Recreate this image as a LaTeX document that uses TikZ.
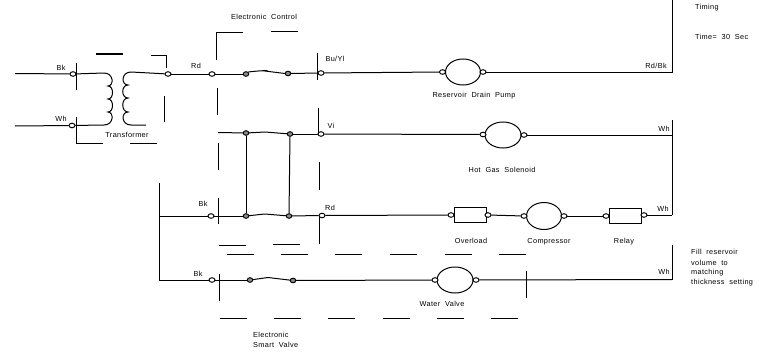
\documentclass[tikz,border=0pt]{standalone}
\usepackage{fontspec}
\setmainfont[LetterSpace=5,WordSpace=2]{Liberation Sans}
\usetikzlibrary{shapes.geometric}
\tikzset{
  wire/.style={line width=1pt,black},
  thin wire/.style={line width=1pt,black},
  dashpart/.style={line width=1pt,black},
  term/.style={ellipse,draw=black,line width=0.95pt,fill=white,minimum width=6pt,minimum height=4.6pt,inner sep=0pt},
  contact/.style={ellipse,draw=black,line width=0.95pt,fill=black!45,minimum width=5.5pt,minimum height=4.6pt,inner sep=0pt},
  load/.style={ellipse,draw=black,line width=1pt,fill=white,inner sep=0pt,minimum width=35pt,minimum height=26pt},
  boxload/.style={rectangle,draw=black,line width=1pt,fill=white,inner sep=0pt,minimum width=32pt,minimum height=15pt},
  lab/.style={inner sep=0pt,font=\fontsize{7.3pt}{8pt}\selectfont,text=black},
  leftlab/.style={lab,anchor=west,align=left}
}
\begin{document}
\begin{tikzpicture}[x=1pt,y=-1pt]
\useasboundingbox (0,0) rectangle (759,353);
% free ends
\coordinate (inT) at (15,73.5);
\coordinate (inB) at (15,126);
\coordinate (rightTop) at (672,0);
\coordinate (priT) at (104,73);
\coordinate (priB) at (104,125);
\coordinate (secT) at (131,72);
\coordinate (secB) at (146,125);
\coordinate (ecL) at (218,132.5);
\coordinate (r1R) at (672,72);
\coordinate (r2R) at (672,135);
\coordinate (r3R) at (672,215);
\coordinate (r4R) at (672,279.5);
\coordinate (r3L) at (159,216);
\coordinate (r4L) at (159,280);
\coordinate (busT) at (159,183);
% wires first, nodes on top
\node[term] (bkA) at (73,74) {};
\node[term] (whA) at (72,125.5) {};
\node[term] (t1) at (168,74) {};
\node[term] (rdA) at (212,74) {};
\node[contact] (c1a) at (246,74) {};
\node[contact] (c1b) at (288,73.5) {};
\node[term] (buyl) at (321,73) {};
\node[contact] (c2a) at (246,133) {};
\node[contact] (c2b) at (290,134) {};
\node[term] (vi) at (321,134) {};
\node[term] (bkB) at (211,216) {};
\node[contact] (c3a) at (246,216) {};
\node[contact] (c3b) at (289,216) {};
\node[term] (rdB) at (322,215.5) {};
\node[term] (bkC) at (212,280) {};
\node[contact] (c4a) at (250,280) {};
\node[contact] (c4b) at (293,280.5) {};
\draw[wire] (inT) -- (bkA);
\draw[wire] (inB) -- (whA);
\draw[wire] (bkA) -- (priT);
\draw[wire] (whA) -- (priB);
\draw[wire] (priT) .. controls (114,73) and (114,86) .. (108,86)
  .. controls (114,86) and (114,99) .. (108,99)
  .. controls (114,99) and (114,112) .. (108,112)
  .. controls (114,112) and (114,125) .. (priB);
\draw[wire] (secT) .. controls (121,72) and (121,85) .. (128,85)
  .. controls (121,85) and (121,98) .. (128,98)
  .. controls (121,98) and (121,112) .. (128,112)
  .. controls (121,112) and (121,125) .. (131,125) -- (secB);
\draw[wire] (secT) -- (t1);
\draw[wire] (t1) -- (rdA);
\draw[wire] (rdA) -- (c1a);
\draw[wire] (c1a.north east) .. controls +(6,-1) and +(8,-1) .. (265,71) -- (c1b.west);
\draw[wire] (c1b) -- (buyl);
\node[load] (pump) at (463,72) {};
\node[term] (pumpL) at (442.5,72) {};
\node[term] (pumpR) at (483,72) {};
\draw[wire] (buyl) -- (pumpL);
\draw[wire] (pumpR) -- (r1R) -- (rightTop);
\draw[wire] (ecL) -- (c2a);
\draw[wire] (c2a) -- (265,132) -- (c2b);
\draw[wire] (c2b) -- (vi);
\node[load,minimum width=36pt] (sol) at (503,135) {};
\node[term] (solL) at (483,134.5) {};
\node[term] (solR) at (524,135) {};
\draw[wire] (vi) -- (solL);
\draw[wire] (solR) -- (r2R);
\draw[wire] (r3L) -- (bkB);
\draw[wire] (bkB) -- (c3a);
\draw[wire] (c3a) -- (265,214) -- (c3b);
\draw[wire] (c3b) -- (rdB);
\draw[wire] (c2a) -- (c3a);
\draw[wire] (c2b) -- (c3b);
\node[boxload] (over) at (470,215) {};
\node[term] (overL) at (451,215) {};
\node[term] (overR) at (488,215) {};
\node[load,minimum width=35pt,minimum height=27pt] (comp) at (544,216) {};
\node[term] (compL) at (524,216) {};
\node[term] (compR) at (564,216) {};
\node[boxload] (relay) at (625,215.5) {};
\node[term] (relayL) at (606,216) {};
\node[term] (relayR) at (644,215) {};
\draw[wire] (rdB) -- (overL);
\draw[wire] (overR) -- (compL);
\draw[wire] (compR) -- (relayL);
\draw[wire] (relayR) -- (r3R);
\draw[wire] (busT) -- (r4L) -- (bkC);
\draw[wire] (bkC) -- (c4a);
\draw[wire] (c4a) -- (268,277.5) -- (c4b);
\node[load,minimum width=36pt] (valve) at (455,280) {};
\node[term] (valveL) at (435,280) {};
\node[term] (valveR) at (476,280) {};
\draw[wire] (c4b) -- (valveL);
\draw[wire] (valveR) -- (r4R);
\draw[wire] (672,120) -- (r2R) -- (r3R);
\draw[wire] (672,245) -- (r4R);
% ticks and dashed enclosures
\draw[thin wire] (76,63) -- (76,90);
\draw[thin wire] (76,117) -- (76,143) -- (103,143);
\draw[dashpart] (130,143) -- (157,143);
\draw[dashpart] (96,54) -- (123,54);
\draw[dashpart] (151,55) -- (166,55) -- (166,68);
\draw[dashpart] (164,96) -- (164,122);
\draw[dashpart] (216,60) -- (216,33) -- (243,33);
\draw[dashpart] (271,32) -- (298,32);
\draw[dashpart] (217,88) -- (217,115);
\draw[dashpart] (218,143) -- (218,170);
\draw[thin wire] (317,53) -- (317,80);
\draw[thin wire] (318,108) -- (318,134);
\draw[dashpart] (319,162) -- (319,190);
\draw[thin wire] (218,198) -- (218,224);
\draw[thin wire] (319,216) -- (319,244);
\draw[thin wire] (219,274) -- (219,301);
\draw[thin wire] (526,271) -- (526,298);
\draw[dashpart] (219,245) -- (246,245);
\draw[dashpart] (273,244) -- (300,244);
\foreach \a in {227,281,335,390,445,499}
  \draw[dashpart] (\a,254.5) -- (\a+27,254.5);
\foreach \a in {220,274,328,383,437,491}
  \draw[dashpart] (\a,318.5) -- (\a+27,318.5);
% labels
\node[lab] (l1) at (264,17) {Electronic Control};
\node[lab] (l2) at (61,68) {Bk};
\node[lab] (l3) at (61,119) {Wh};
\node[lab] (l4) at (127,135) {Transformer};
\node[lab] (l5) at (196,66) {Rd};
\node[lab] (l6) at (335,59) {Bu/Yl};
\node[lab] (l7) at (331,126) {Vi};
\node[lab] (l8) at (474,96) {Reservoir Drain Pump};
\node[lab] (l9) at (656,66) {Rd/Bk};
\node[lab] (l10) at (664,129) {Wh};
\node[lab] (l11) at (502,170) {Hot Gas Solenoid};
\node[leftlab] (l12) at (695,8) {Timing};
\node[leftlab] (l13) at (695,37) {Time= 30 Sec};
\node[lab] (l14) at (203,204) {Bk};
\node[lab] (l15) at (330,208) {Rd};
\node[lab] (l16) at (198,274) {Bk};
\node[lab] (l17) at (471,241) {Overload};
\node[lab] (l18) at (549,242) {Compressor};
\node[lab] (l19) at (624,242) {Relay};
\node[lab] (l20) at (663,209) {Wh};
\node[lab] (l21) at (664,272) {Wh};
\node[lab] (l22) at (442,304) {Water Valve};
\node[leftlab] (l23) at (691,252) {Fill reservoir};
\node[leftlab] (l24) at (691,262.5) {volume to};
\node[leftlab] (l25) at (691,272.5) {matching};
\node[leftlab] (l26) at (691,283) {thickness setting};
\node[leftlab] (l27) at (253,335) {Electronic};
\node[leftlab] (l28) at (253,345) {Smart Valve};
\end{tikzpicture}
\end{document}
